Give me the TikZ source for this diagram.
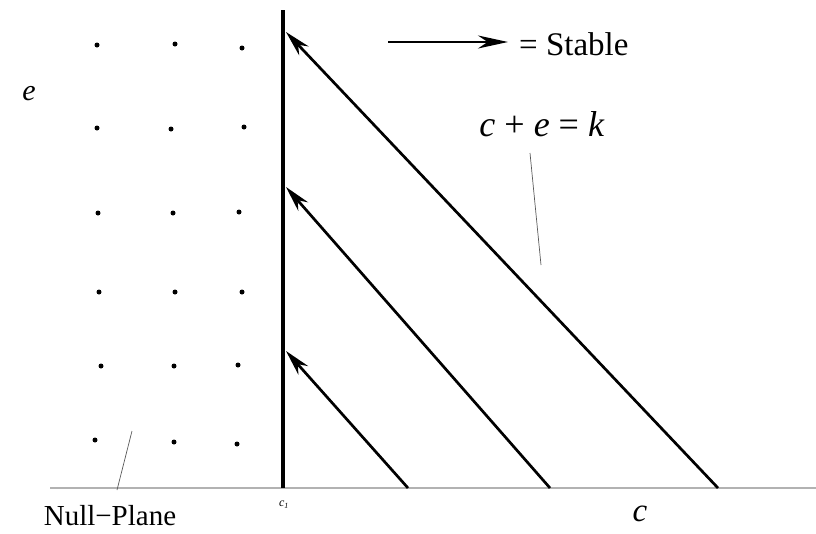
\documentclass[tikz,border=0pt]{standalone}
\usepackage{fontspec}
\setmainfont{Liberation Serif}
\usetikzlibrary{arrows.meta}
\begin{document}
\begin{tikzpicture}[x=1pt,y=-1pt,
  dot/.style={circle,fill=black,inner sep=0pt,minimum size=5pt},
  tip/.style={-{Stealth[length=26pt,width=13pt]}},
  diag/.style={line width=2.7pt,tip},
  pointer/.style={line width=0.7pt,draw=black!65},
  lbl/.style={inner sep=0pt}]
\useasboundingbox (0,0) rectangle (816,533);
% axes
\coordinate (hx0) at (50,488);
\coordinate (hx1) at (816,488);
\draw[line width=1.8pt,black!30] (hx0) -- (hx1);
\coordinate (v0) at (283,10);
\coordinate (v1) at (283,488);
\draw[line width=4.2pt] (v0) -- (v1);
% dots
\foreach \x/\y [count=\i] in {97/45,175/44,242/48,97/128,171/129,244/127,98/213,173/213,239/212,99/292,175/292,242/292,101/366,174/366,238/365,95/440,174/442,237/444}
  \node[dot] (d\i) at (\x,\y) {};
% diagonal lines
\coordinate (a1) at (718,488); \coordinate (b1) at (286,32);
\coordinate (a2) at (550,488); \coordinate (b2) at (286,187);
\coordinate (a3) at (408,488); \coordinate (b3) at (286,351);
\draw[diag] (a1) -- (b1);
\draw[diag] (a2) -- (b2);
\draw[diag] (a3) -- (b3);
% legend
\coordinate (s0) at (388,42);
\coordinate (s1) at (508,42);
\draw[line width=2.6pt,-{Stealth[length=30pt,width=13pt]}] (s0) -- (s1);
\node[lbl,anchor=west,font=\fontsize{33}{38}\selectfont] (stable) at (519,44) {= Stable};
% equation
\node[lbl,font=\fontsize{36}{40}\selectfont] (eq) at (542,124) {\textit{c} + \textit{e} = \textit{k}};
\coordinate (p1) at (541,265);
\draw[pointer] (530,153) -- (p1);
% labels
\node[lbl,font=\fontsize{30}{34}\selectfont\itshape] (e) at (29,94) {e};
\node[lbl,font=\fontsize{33}{36}\selectfont\itshape] (c) at (640,514) {c};
\node[lbl,font=\fontsize{12}{14}\selectfont\itshape] (c1) at (284,505) {c\textsubscript{1}};
\node[lbl,font=\fontsize{29}{32}\selectfont] (np) at (110,516) {Null−Plane};
\coordinate (np0) at (117,490);
\coordinate (np1) at (132,431);
\draw[pointer] (np0) -- (np1);
\end{tikzpicture}
\end{document}
